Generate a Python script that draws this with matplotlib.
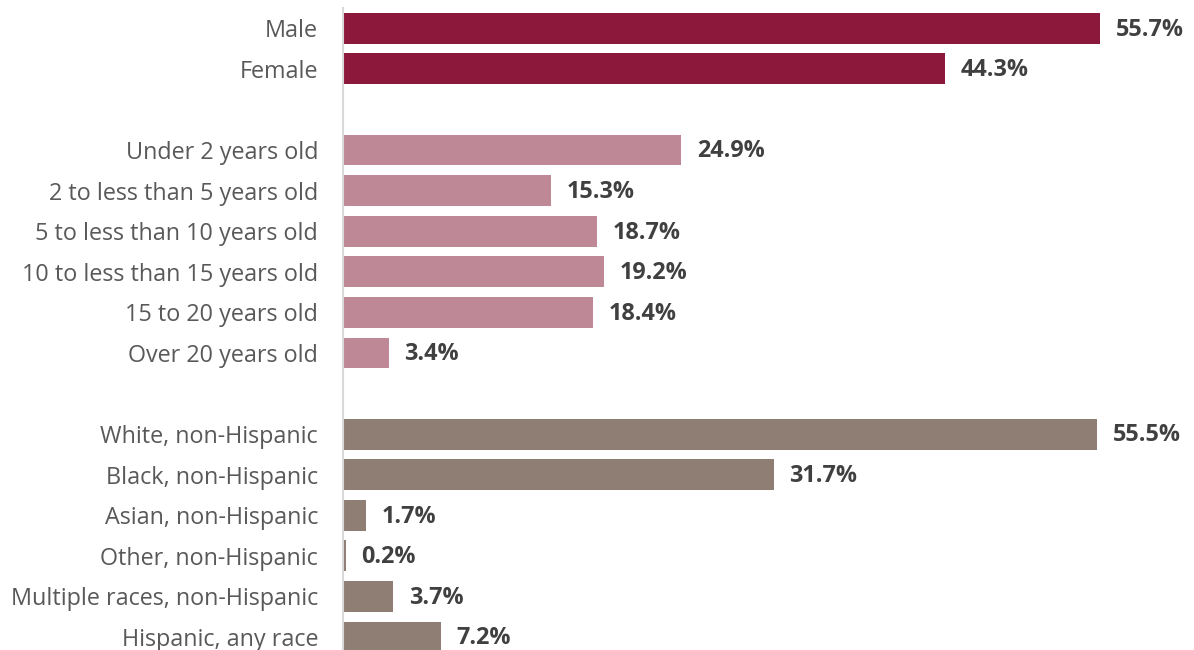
import matplotlib.pyplot as plt

plt.rcParams['font.family'] = ['Open Sans', 'DejaVu Sans']

# categorias e valores (%)
sexo = ['Male', 'Female']
sexo_pct = [55.7, 44.3]

idade = ['Under 2 years old', '2 to less than 5 years old', '5 to less than 10 years old',
         '10 to less than 15 years old', '15 to 20 years old', 'Over 20 years old']
idade_pct = [24.9, 15.3, 18.7, 19.2, 18.4, 3.4]

raca = ['White, non-Hispanic', 'Black, non-Hispanic', 'Asian, non-Hispanic',
        'Other, non-Hispanic', 'Multiple races, non-Hispanic', 'Hispanic, any race']
raca_pct = [55.5, 31.7, 1.7, 0.2, 3.7, 7.2]

grupos = [(sexo, sexo_pct, '#8C183C'),
          (idade, idade_pct, '#BE8896'),
          (raca, raca_pct, '#8F7E74')]

fig = plt.figure(figsize=(11.94, 6.5), dpi=100)
ax = fig.add_axes([343 / 1194, 0, 851 / 1194, 642 / 650])

labels, pos = [], []
y = 0
for nomes, vals, cor in grupos:
    ys = list(range(y, y + len(nomes)))
    ax.barh(ys, vals, height=0.76, color=cor)
    for yy, v in zip(ys, vals):
        ax.annotate(f'{v:.1f}%', (v, yy), xytext=(11, -1), textcoords='offset points',
                    va='center', ha='left', fontsize=16.8, fontweight='bold', color='#404040')
    labels += nomes
    pos += ys
    y += len(nomes) + 1

ax.set_yticks(pos)
ax.set_yticklabels(labels, fontsize=16.8, color='#595959')
ax.tick_params(axis='y', length=0, pad=18)
ax.set_xticks([])
ax.set_xlim(0, 62.6)
ax.set_ylim(15.32, -0.5)

for s in ['top', 'right', 'bottom']:
    ax.spines[s].set_visible(False)
ax.spines['left'].set_color('#D9D9D9')
ax.spines['left'].set_linewidth(1.5)

plt.savefig('out.png', dpi=100)
